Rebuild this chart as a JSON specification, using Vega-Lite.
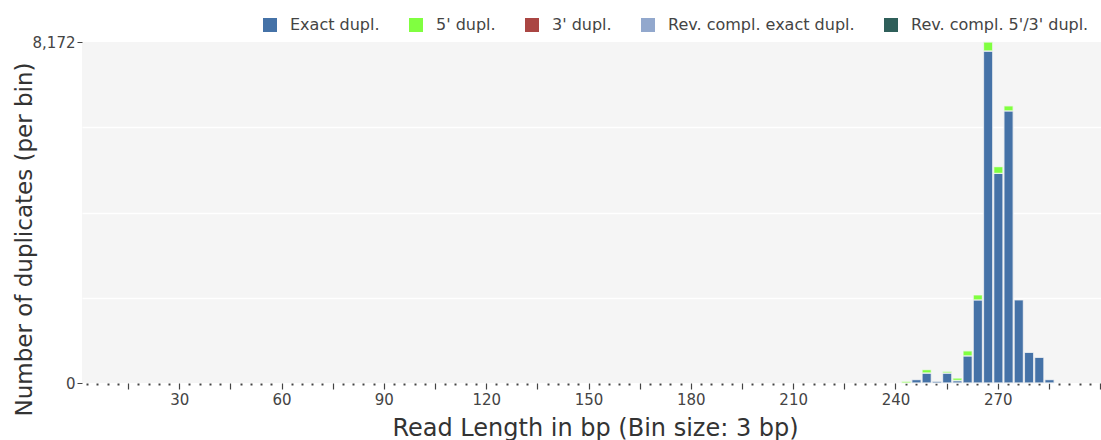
{
  "$schema": "https://vega.github.io/schema/vega-lite/v6.json",
  "autosize": "none",
  "width": 1019,
  "height": 341,
  "padding": {"left": 82, "top": 42, "right": 0, "bottom": 57},
  "background": "white",
  "config": {
    "font": "DejaVu Sans",
    "view": {"fill": "#f5f5f5", "stroke": null}
  },
  "data": {
    "values": [
      {"start": 241.5, "end": 244.5, "type": "5' dupl.", "count": 40},
      {"start": 244.5, "end": 247.5, "type": "Exact dupl.", "count": 80},
      {"start": 247.5, "end": 250.5, "type": "Exact dupl.", "count": 240},
      {"start": 247.5, "end": 250.5, "type": "5' dupl.", "count": 80},
      {"start": 250.5, "end": 253.5, "type": "Exact dupl.", "count": 40},
      {"start": 253.5, "end": 256.5, "type": "Exact dupl.", "count": 240},
      {"start": 253.5, "end": 256.5, "type": "5' dupl.", "count": 40},
      {"start": 256.5, "end": 259.5, "type": "Exact dupl.", "count": 60},
      {"start": 256.5, "end": 259.5, "type": "5' dupl.", "count": 60},
      {"start": 259.5, "end": 262.5, "type": "Exact dupl.", "count": 650},
      {"start": 259.5, "end": 262.5, "type": "5' dupl.", "count": 120},
      {"start": 262.5, "end": 265.5, "type": "Exact dupl.", "count": 1990},
      {"start": 262.5, "end": 265.5, "type": "5' dupl.", "count": 120},
      {"start": 265.5, "end": 268.5, "type": "Exact dupl.", "count": 7956},
      {"start": 265.5, "end": 268.5, "type": "5' dupl.", "count": 216},
      {"start": 268.5, "end": 271.5, "type": "Exact dupl.", "count": 5023},
      {"start": 268.5, "end": 271.5, "type": "5' dupl.", "count": 160},
      {"start": 271.5, "end": 274.5, "type": "Exact dupl.", "count": 6521},
      {"start": 271.5, "end": 274.5, "type": "5' dupl.", "count": 120},
      {"start": 274.5, "end": 277.5, "type": "Exact dupl.", "count": 1990},
      {"start": 277.5, "end": 280.5, "type": "Exact dupl.", "count": 732},
      {"start": 280.5, "end": 283.5, "type": "Exact dupl.", "count": 612},
      {"start": 283.5, "end": 286.5, "type": "Exact dupl.", "count": 80}
    ]
  },
  "mark": {"type": "bar", "stroke": "#f5f5f5", "strokeWidth": 1.3, "strokeOpacity": 0.75},
  "encoding": {
    "x": {
      "field": "start",
      "type": "quantitative",
      "bin": {"binned": true, "step": 3},
      "scale": {"domain": [1.5, 300.25], "nice": false, "zero": false},
      "axis": {
        "title": "Read Length in bp (Bin size: 3 bp)",
        "titleFont": "DejaVu Sans",
        "titleFontSize": 24,
        "titleFontWeight": "normal",
        "titleColor": "#333333",
        "titleAnchor": "middle",
        "titleBaseline": "middle",
        "titleX": 513,
        "titleY": 45,
        "domain": false,
        "grid": false,
        "values": [3,6,9,12,15,18,21,24,27,30,33,36,39,42,45,48,51,54,57,60,63,66,69,72,75,78,81,84,87,90,93,96,99,102,105,108,111,114,117,120,123,126,129,132,135,138,141,144,147,150,153,156,159,162,165,168,171,174,177,180,183,186,189,192,195,198,201,204,207,210,213,216,219,222,225,228,231,234,237,240,243,246,249,252,255,258,261,264,267,270,273,276,279,282,285,288,291,294,297,300],
        "labelExpr": "datum.value % 30 === 0 && datum.value < 300 ? datum.label : ''",
        "labelOverlap": false,
        "labelFlush": false,
        "labelFontSize": 15,
        "labelColor": "#444444",
        "labelPadding": 3,
        "tickSize": {"condition": {"test": "datum.value % 15 === 0", "value": 6}, "value": 2},
        "tickWidth": {"condition": {"test": "datum.value % 15 === 0", "value": 1.2}, "value": 2},
        "tickColor": "#444444"
      }
    },
    "x2": {"field": "end"},
    "y": {
      "field": "count",
      "type": "quantitative",
      "stack": "zero",
      "scale": {"domain": [0, 8172], "nice": false},
      "axis": {
        "title": "Number of duplicates (per bin)",
        "titleFont": "DejaVu Sans",
        "titleFontSize": 23,
        "titleFontWeight": "normal",
        "titleColor": "#333333",
        "titleAnchor": "middle",
        "titleAlign": "center",
        "titleBaseline": "middle",
        "titleX": -58,
        "titleY": 197,
        "domain": false,
        "values": [0, 2043, 4086, 6129, 8172],
        "format": ",d",
        "labelExpr": "datum.value === 0 || datum.value === 8172 ? datum.label : ''",
        "labelFlush": false,
        "labelFontSize": 15,
        "labelColor": "#444444",
        "labelPadding": 2,
        "tickSize": 5,
        "tickColor": "#444444",
        "tickOpacity": {"condition": {"test": "datum.value === 0 || datum.value === 8172", "value": 1}, "value": 0},
        "grid": true,
        "gridColor": "#ffffff",
        "gridWidth": 1.5,
        "gridOpacity": {"condition": {"test": "datum.value === 0 || datum.value === 8172", "value": 0}, "value": 1}
      }
    },
    "color": {
      "field": "type",
      "type": "nominal",
      "scale": {
        "domain": ["Exact dupl.", "5' dupl.", "3' dupl.", "Rev. compl. exact dupl.", "Rev. compl. 5'/3' dupl."],
        "range": ["#4572a7", "#80ff40", "#aa4643", "#92a8cd", "#2f5f5a"]
      },
      "legend": {
        "title": null,
        "orient": "none",
        "direction": "horizontal",
        "columns": 5,
        "legendX": 180,
        "legendY": -25,
        "symbolType": "square",
        "symbolSize": 196,
        "symbolStrokeWidth": 0,
        "symbolOpacity": 1,
        "labelFontSize": 16,
        "labelLimit": 0,
        "labelColor": "#444444",
        "labelOffset": 12,
        "columnPadding": 28
      }
    },
    "order": {"field": "type", "sort": "descending"}
  }
}
